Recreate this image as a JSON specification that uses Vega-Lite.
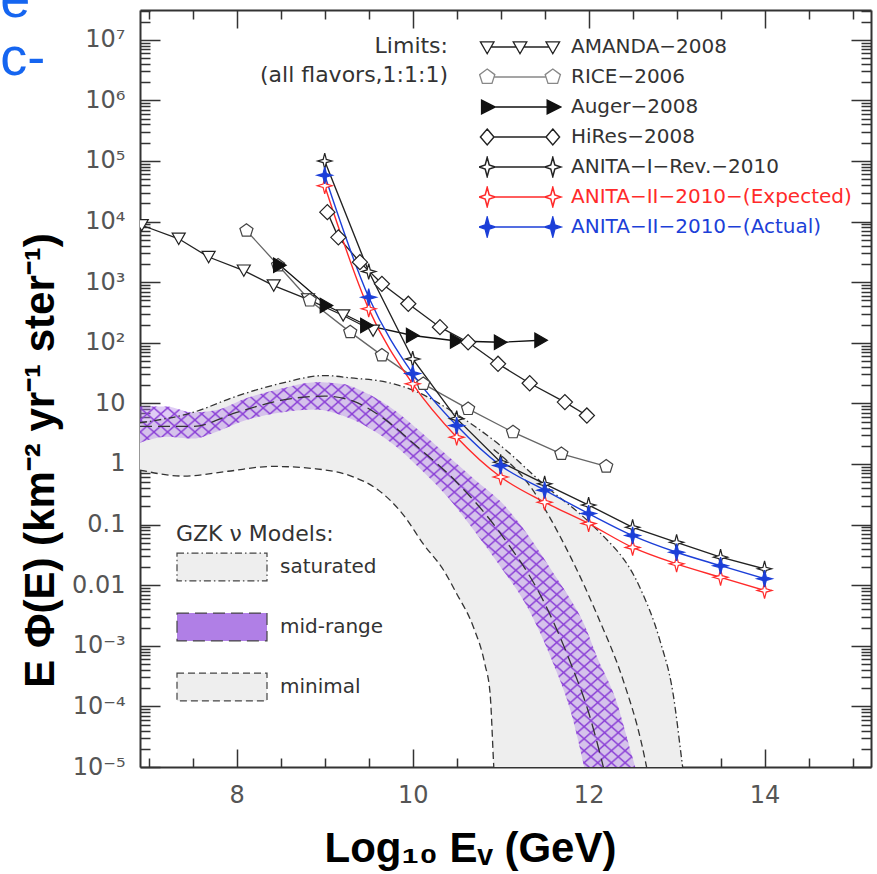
{
  "$schema": "https://vega.github.io/schema/vega-lite/v6.json",
  "width": 731,
  "height": 757,
  "autosize": {"type": "none"},
  "padding": {"left": 140, "top": 10, "right": 6, "bottom": 107},
  "background": "white",
  "datasets": {
    "limits": [
      {"s": "AMANDA−2008", "E": 6.92, "F": 8700},
      {"s": "AMANDA−2008", "E": 7.34, "F": 5200},
      {"s": "AMANDA−2008", "E": 7.68, "F": 2600},
      {"s": "AMANDA−2008", "E": 8.08, "F": 1550},
      {"s": "AMANDA−2008", "E": 8.42, "F": 880},
      {"s": "AMANDA−2008", "E": 8.81, "F": 520},
      {"s": "AMANDA−2008", "E": 9.21, "F": 282},
      {"s": "AMANDA−2008", "E": 9.55, "F": 158},
      {"s": "RICE−2006", "E": 8.11, "F": 7100},
      {"s": "RICE−2006", "E": 8.47, "F": 1900},
      {"s": "RICE−2006", "E": 8.83, "F": 500},
      {"s": "RICE−2006", "E": 9.29, "F": 150},
      {"s": "RICE−2006", "E": 9.65, "F": 62},
      {"s": "RICE−2006", "E": 10.12, "F": 21},
      {"s": "RICE−2006", "E": 10.63, "F": 8.1},
      {"s": "RICE−2006", "E": 11.14, "F": 3.35},
      {"s": "RICE−2006", "E": 11.69, "F": 1.47},
      {"s": "RICE−2006", "E": 12.2, "F": 0.91},
      {"s": "Auger−2008", "E": 8.49, "F": 1900},
      {"s": "Auger−2008", "E": 9.02, "F": 412},
      {"s": "Auger−2008", "E": 9.48, "F": 193},
      {"s": "Auger−2008", "E": 10.0, "F": 132},
      {"s": "Auger−2008", "E": 10.5, "F": 107},
      {"s": "Auger−2008", "E": 11.0, "F": 102},
      {"s": "Auger−2008", "E": 11.46, "F": 110},
      {"s": "HiRes−2008", "E": 9.03, "F": 14300},
      {"s": "HiRes−2008", "E": 9.155, "F": 5500},
      {"s": "HiRes−2008", "E": 9.4, "F": 2140},
      {"s": "HiRes−2008", "E": 9.65, "F": 940},
      {"s": "HiRes−2008", "E": 9.95, "F": 440},
      {"s": "HiRes−2008", "E": 10.31, "F": 181},
      {"s": "HiRes−2008", "E": 10.63, "F": 102},
      {"s": "HiRes−2008", "E": 10.97, "F": 45},
      {"s": "HiRes−2008", "E": 11.33, "F": 21.5},
      {"s": "HiRes−2008", "E": 11.73, "F": 10.5},
      {"s": "HiRes−2008", "E": 11.98, "F": 6.3},
      {"s": "ANITA−I−Rev.−2010", "E": 9, "F": 100000},
      {"s": "ANITA−I−Rev.−2010", "E": 9.5, "F": 1500},
      {"s": "ANITA−I−Rev.−2010", "E": 10, "F": 54},
      {"s": "ANITA−I−Rev.−2010", "E": 10.5, "F": 5.6},
      {"s": "ANITA−I−Rev.−2010", "E": 11, "F": 1.07},
      {"s": "ANITA−I−Rev.−2010", "E": 11.5, "F": 0.47},
      {"s": "ANITA−I−Rev.−2010", "E": 12, "F": 0.21},
      {"s": "ANITA−I−Rev.−2010", "E": 12.5, "F": 0.09},
      {"s": "ANITA−I−Rev.−2010", "E": 13, "F": 0.051},
      {"s": "ANITA−I−Rev.−2010", "E": 13.5, "F": 0.029},
      {"s": "ANITA−I−Rev.−2010", "E": 14, "F": 0.0186},
      {"s": "ANITA−II−2010−(Expected)", "E": 9, "F": 39000},
      {"s": "ANITA−II−2010−(Expected)", "E": 9.5, "F": 363},
      {"s": "ANITA−II−2010−(Expected)", "E": 10, "F": 21},
      {"s": "ANITA−II−2010−(Expected)", "E": 10.5, "F": 2.77},
      {"s": "ANITA−II−2010−(Expected)", "E": 11, "F": 0.61},
      {"s": "ANITA−II−2010−(Expected)", "E": 11.5, "F": 0.234},
      {"s": "ANITA−II−2010−(Expected)", "E": 12, "F": 0.104},
      {"s": "ANITA−II−2010−(Expected)", "E": 12.5, "F": 0.042},
      {"s": "ANITA−II−2010−(Expected)", "E": 13, "F": 0.0225},
      {"s": "ANITA−II−2010−(Expected)", "E": 13.5, "F": 0.0135},
      {"s": "ANITA−II−2010−(Expected)", "E": 14, "F": 0.0082},
      {"s": "ANITA−II−2010−(Actual)", "E": 9, "F": 58000},
      {"s": "ANITA−II−2010−(Actual)", "E": 9.5, "F": 565},
      {"s": "ANITA−II−2010−(Actual)", "E": 10, "F": 31},
      {"s": "ANITA−II−2010−(Actual)", "E": 10.5, "F": 4.3},
      {"s": "ANITA−II−2010−(Actual)", "E": 11, "F": 0.94},
      {"s": "ANITA−II−2010−(Actual)", "E": 11.5, "F": 0.37},
      {"s": "ANITA−II−2010−(Actual)", "E": 12, "F": 0.152},
      {"s": "ANITA−II−2010−(Actual)", "E": 12.5, "F": 0.066},
      {"s": "ANITA−II−2010−(Actual)", "E": 13, "F": 0.035},
      {"s": "ANITA−II−2010−(Actual)", "E": 13.5, "F": 0.021},
      {"s": "ANITA−II−2010−(Actual)", "E": 14, "F": 0.0128}
    ],
    "bands": [
      {"m": "saturated", "E": 6.9, "lo": 4.17, "hi": 4.79},
      {"m": "saturated", "E": 7.5, "lo": 4.17, "hi": 7.08},
      {"m": "saturated", "E": 8.0, "lo": 7.08, "hi": 13.2},
      {"m": "saturated", "E": 8.5, "lo": 11.2, "hi": 21.4},
      {"m": "saturated", "E": 9.0, "lo": 13.2, "hi": 28.8},
      {"m": "saturated", "E": 9.3, "lo": 11.2, "hi": 26.3},
      {"m": "saturated", "E": 9.7, "lo": 5.25, "hi": 22.4},
      {"m": "saturated", "E": 10.0, "lo": 2.24, "hi": 16.6},
      {"m": "saturated", "E": 10.5, "lo": 0.501, "hi": 6.61},
      {"m": "saturated", "E": 11.0, "lo": 0.0708, "hi": 2.0},
      {"m": "saturated", "E": 11.5, "lo": 0.00501, "hi": 0.447},
      {"m": "saturated", "E": 12.0, "lo": 7.94e-5, "hi": 0.112},
      {"m": "saturated", "E": 12.12, "lo": 1.58e-5, "hi": 0.0759},
      {"m": "saturated", "E": 12.58, "lo": 1e-6, "hi": 9.33e-3},
      {"m": "saturated", "E": 12.81, "lo": 1e-6, "hi": 1.23e-3},
      {"m": "saturated", "E": 12.96, "lo": 1e-6, "hi": 1.62e-4},
      {"m": "saturated", "E": 13.06, "lo": 1e-6, "hi": 1.26e-5},
      {"m": "saturated", "E": 13.12, "lo": 1e-6, "hi": 2.51e-6},
      {"m": "minimal", "E": 6.9, "lo": 0.794, "hi": 4.17},
      {"m": "minimal", "E": 7.4, "lo": 0.631, "hi": 4.17},
      {"m": "minimal", "E": 7.9, "lo": 0.759, "hi": 6.61},
      {"m": "minimal", "E": 8.4, "lo": 0.912, "hi": 10},
      {"m": "minimal", "E": 8.9, "lo": 0.832, "hi": 12.6},
      {"m": "minimal", "E": 9.3, "lo": 0.631, "hi": 11.2},
      {"m": "minimal", "E": 9.6, "lo": 0.38, "hi": 7.94},
      {"m": "minimal", "E": 9.9, "lo": 0.141, "hi": 5.62},
      {"m": "minimal", "E": 10.12, "lo": 0.0479, "hi": 4.79},
      {"m": "minimal", "E": 10.35, "lo": 0.0178, "hi": 3.98},
      {"m": "minimal", "E": 10.5, "lo": 7.24e-3, "hi": 3.55},
      {"m": "minimal", "E": 10.69, "lo": 2.04e-3, "hi": 2.63},
      {"m": "minimal", "E": 10.82, "lo": 5.01e-4, "hi": 2.09},
      {"m": "minimal", "E": 10.88, "lo": 1.62e-4, "hi": 1.86},
      {"m": "minimal", "E": 10.92, "lo": 1.12e-5, "hi": 1.74},
      {"m": "minimal", "E": 10.94, "lo": 3.16e-6, "hi": 1.66},
      {"m": "minimal", "E": 11.3, "lo": 1e-6, "hi": 0.501},
      {"m": "minimal", "E": 11.8, "lo": 1e-6, "hi": 0.0282},
      {"m": "minimal", "E": 12.1, "lo": 1e-6, "hi": 3.16e-3},
      {"m": "minimal", "E": 12.4, "lo": 1e-6, "hi": 2.51e-4},
      {"m": "minimal", "E": 12.6, "lo": 1e-6, "hi": 2.51e-5},
      {"m": "minimal", "E": 12.7, "lo": 1e-6, "hi": 5.01e-6},
      {"m": "mid-range", "E": 6.9, "lo": 2.24, "hi": 8.91},
      {"m": "mid-range", "E": 7.2, "lo": 2.82, "hi": 8.91},
      {"m": "mid-range", "E": 7.5, "lo": 2.63, "hi": 7.08},
      {"m": "mid-range", "E": 7.8, "lo": 3.55, "hi": 7.94},
      {"m": "mid-range", "E": 8.1, "lo": 5.25, "hi": 12.0},
      {"m": "mid-range", "E": 8.5, "lo": 7.08, "hi": 17.4},
      {"m": "mid-range", "E": 8.9, "lo": 7.94, "hi": 22.4},
      {"m": "mid-range", "E": 9.2, "lo": 6.31, "hi": 20.9},
      {"m": "mid-range", "E": 9.5, "lo": 3.98, "hi": 14.1},
      {"m": "mid-range", "E": 9.8, "lo": 2.0, "hi": 7.59},
      {"m": "mid-range", "E": 10.1, "lo": 0.794, "hi": 3.31},
      {"m": "mid-range", "E": 10.4, "lo": 0.282, "hi": 1.35},
      {"m": "mid-range", "E": 10.7, "lo": 0.0794, "hi": 0.562},
      {"m": "mid-range", "E": 11.0, "lo": 0.02, "hi": 0.24},
      {"m": "mid-range", "E": 11.3, "lo": 4.47e-3, "hi": 0.0708},
      {"m": "mid-range", "E": 11.6, "lo": 5.01e-4, "hi": 0.0158},
      {"m": "mid-range", "E": 11.8, "lo": 7.94e-5, "hi": 5.62e-3},
      {"m": "mid-range", "E": 11.95, "lo": 1e-5, "hi": 2.24e-3},
      {"m": "mid-range", "E": 12.1, "lo": 1e-6, "hi": 6.31e-4},
      {"m": "mid-range", "E": 12.3, "lo": 1e-6, "hi": 1.41e-4},
      {"m": "mid-range", "E": 12.5, "lo": 1e-6, "hi": 1.41e-5},
      {"m": "mid-range", "E": 12.65, "lo": 1e-6, "hi": 2.51e-6}
    ],
    "curves": [
      {"c": "sat_up", "m": "saturated", "E": 6.9, "F": 4.79},
      {"c": "sat_up", "m": "saturated", "E": 7.5, "F": 7.08},
      {"c": "sat_up", "m": "saturated", "E": 8.0, "F": 13.2},
      {"c": "sat_up", "m": "saturated", "E": 8.5, "F": 21.4},
      {"c": "sat_up", "m": "saturated", "E": 9.0, "F": 28.8},
      {"c": "sat_up", "m": "saturated", "E": 9.3, "F": 26.3},
      {"c": "sat_up", "m": "saturated", "E": 9.7, "F": 22.4},
      {"c": "sat_up", "m": "saturated", "E": 10.0, "F": 16.6},
      {"c": "sat_up", "m": "saturated", "E": 10.5, "F": 6.61},
      {"c": "sat_up", "m": "saturated", "E": 11.0, "F": 2.0},
      {"c": "sat_up", "m": "saturated", "E": 11.5, "F": 0.447},
      {"c": "sat_up", "m": "saturated", "E": 12.0, "F": 0.112},
      {"c": "sat_up", "m": "saturated", "E": 12.12, "F": 0.0759},
      {"c": "sat_up", "m": "saturated", "E": 12.58, "F": 9.33e-3},
      {"c": "sat_up", "m": "saturated", "E": 12.81, "F": 1.23e-3},
      {"c": "sat_up", "m": "saturated", "E": 12.96, "F": 1.62e-4},
      {"c": "sat_up", "m": "saturated", "E": 13.06, "F": 1.26e-5},
      {"c": "sat_up", "m": "saturated", "E": 13.12, "F": 2.51e-6},
      {"c": "mid_c", "m": "mid-range", "E": 6.9, "F": 4.17},
      {"c": "mid_c", "m": "mid-range", "E": 7.5, "F": 4.17},
      {"c": "mid_c", "m": "mid-range", "E": 8.0, "F": 7.08},
      {"c": "mid_c", "m": "mid-range", "E": 8.5, "F": 11.2},
      {"c": "mid_c", "m": "mid-range", "E": 9.0, "F": 13.2},
      {"c": "mid_c", "m": "mid-range", "E": 9.3, "F": 11.2},
      {"c": "mid_c", "m": "mid-range", "E": 9.7, "F": 5.25},
      {"c": "mid_c", "m": "mid-range", "E": 10.0, "F": 2.24},
      {"c": "mid_c", "m": "mid-range", "E": 10.5, "F": 0.501},
      {"c": "mid_c", "m": "mid-range", "E": 11.0, "F": 0.0708},
      {"c": "mid_c", "m": "mid-range", "E": 11.5, "F": 5.01e-3},
      {"c": "mid_c", "m": "mid-range", "E": 11.8, "F": 5.01e-4},
      {"c": "mid_c", "m": "mid-range", "E": 12.0, "F": 7.94e-5},
      {"c": "mid_c", "m": "mid-range", "E": 12.15, "F": 1.26e-5},
      {"c": "mid_c", "m": "mid-range", "E": 12.25, "F": 3.16e-6},
      {"c": "min_lo", "m": "minimal", "E": 6.9, "F": 0.794},
      {"c": "min_lo", "m": "minimal", "E": 7.4, "F": 0.631},
      {"c": "min_lo", "m": "minimal", "E": 7.9, "F": 0.759},
      {"c": "min_lo", "m": "minimal", "E": 8.4, "F": 0.912},
      {"c": "min_lo", "m": "minimal", "E": 8.9, "F": 0.832},
      {"c": "min_lo", "m": "minimal", "E": 9.3, "F": 0.631},
      {"c": "min_lo", "m": "minimal", "E": 9.6, "F": 0.38},
      {"c": "min_lo", "m": "minimal", "E": 9.9, "F": 0.141},
      {"c": "min_lo", "m": "minimal", "E": 10.12, "F": 0.0479},
      {"c": "min_lo", "m": "minimal", "E": 10.35, "F": 0.0178},
      {"c": "min_lo", "m": "minimal", "E": 10.5, "F": 7.24e-3},
      {"c": "min_lo", "m": "minimal", "E": 10.69, "F": 2.04e-3},
      {"c": "min_lo", "m": "minimal", "E": 10.82, "F": 5.01e-4},
      {"c": "min_lo", "m": "minimal", "E": 10.88, "F": 1.62e-4},
      {"c": "min_lo", "m": "minimal", "E": 10.92, "F": 1.12e-5},
      {"c": "min_lo", "m": "minimal", "E": 10.94, "F": 3.16e-6},
      {"c": "min_up", "m": "minimal", "E": 10.92, "F": 1.74},
      {"c": "min_up", "m": "minimal", "E": 11.3, "F": 0.501},
      {"c": "min_up", "m": "minimal", "E": 11.8, "F": 0.0282},
      {"c": "min_up", "m": "minimal", "E": 12.1, "F": 3.16e-3},
      {"c": "min_up", "m": "minimal", "E": 12.4, "F": 2.51e-4},
      {"c": "min_up", "m": "minimal", "E": 12.6, "F": 2.51e-5},
      {"c": "min_up", "m": "minimal", "E": 12.7, "F": 5.01e-6}
    ]
  },
  "layer": [
    {
      "data": {"name": "bands"},
      "transform": [{"filter": "datum.m !== 'mid-range'"}],
      "mark": {"type": "area", "clip": true, "interpolate": "monotone"},
      "encoding": {
        "x": {"field": "E", "type": "quantitative", "scale": {"domain": [6.9, 15.21], "nice": false, "zero": false}, "axis": null},
        "y": {"field": "hi", "type": "quantitative", "scale": {"type": "log", "domain": [1e-5, 3.1e7], "nice": false}, "axis": null},
        "y2": {"field": "lo"},
        "color": {
          "field": "m", "type": "nominal",
          "scale": {"domain": ["saturated", "mid-range", "minimal"], "range": ["#eeeeee", "#b07fe6", "#eeeeee"]},
          "legend": {"title": "GZK ν Models:", "orient": "none", "legendX": 36, "legendY": 514, "direction": "vertical", "titleFontSize": 22, "titleColor": "#333", "titleFontWeight": "normal", "titlePadding": 6, "symbolType": "M-1,-0.31H1V0.31H-1Z", "symbolSize": 8100, "symbolStrokeColor": "#444", "symbolStrokeWidth": 1.2, "symbolOpacity": 1, "clipHeight": 30, "rowPadding": 30, "labelFontSize": 20, "labelOffset": 12, "labelColor": "#333", "padding": 0}
        }
      }
    },
    {
      "data": {"name": "bands"},
      "transform": [{"filter": "datum.m === 'mid-range'"}],
      "mark": {"type": "area", "clip": true, "interpolate": "monotone", "opacity": 0.4},
      "encoding": {
        "x": {"field": "E", "type": "quantitative", "scale": {"domain": [6.9, 15.21], "nice": false, "zero": false}, "axis": null},
        "y": {"field": "hi", "type": "quantitative", "scale": {"type": "log", "domain": [1e-5, 3.1e7], "nice": false}, "axis": null},
        "y2": {"field": "lo"},
        "color": {
          "field": "m", "type": "nominal",
          "scale": {"domain": ["saturated", "mid-range", "minimal"], "range": ["#eeeeee", "#b07fe6", "#eeeeee"]},
          "legend": {"title": "GZK ν Models:", "orient": "none", "legendX": 36, "legendY": 514, "direction": "vertical", "titleFontSize": 22, "titleColor": "#333", "titleFontWeight": "normal", "titlePadding": 6, "symbolType": "M-1,-0.31H1V0.31H-1Z", "symbolSize": 8100, "symbolStrokeColor": "#444", "symbolStrokeWidth": 1.2, "symbolOpacity": 1, "clipHeight": 30, "rowPadding": 30, "labelFontSize": 20, "labelOffset": 12, "labelColor": "#333", "padding": 0}
        }
      }
    },
    {
      "data": {"name": "bands"},
      "transform": [{"filter": "datum.m === 'mid-range'"}],
      "mark": {
        "type": "area", "clip": true, "interpolate": "monotone",
        "fill": {"gradient": "linear", "x1": 0, "y1": 0, "x2": 1, "y2": 1, "stops": [
          {"offset": 0, "color": "#8a3fd600"}, {"offset": 0.0022, "color": "#8a3fd6"}, {"offset": 0.0044, "color": "#8a3fd600"},
          {"offset": 0.0135, "color": "#8a3fd600"}, {"offset": 0.0157, "color": "#8a3fd6"}, {"offset": 0.0179, "color": "#8a3fd600"},
          {"offset": 0.027, "color": "#8a3fd600"}, {"offset": 0.0292, "color": "#8a3fd6"}, {"offset": 0.0314, "color": "#8a3fd600"},
          {"offset": 0.0405, "color": "#8a3fd600"}, {"offset": 0.0427, "color": "#8a3fd6"}, {"offset": 0.0449, "color": "#8a3fd600"},
          {"offset": 0.054, "color": "#8a3fd600"}, {"offset": 0.0562, "color": "#8a3fd6"}, {"offset": 0.0584, "color": "#8a3fd600"},
          {"offset": 0.0675, "color": "#8a3fd600"}, {"offset": 0.0697, "color": "#8a3fd6"}, {"offset": 0.0719, "color": "#8a3fd600"},
          {"offset": 0.081, "color": "#8a3fd600"}, {"offset": 0.0832, "color": "#8a3fd6"}, {"offset": 0.0854, "color": "#8a3fd600"},
          {"offset": 0.0945, "color": "#8a3fd600"}, {"offset": 0.0967, "color": "#8a3fd6"}, {"offset": 0.0989, "color": "#8a3fd600"},
          {"offset": 0.108, "color": "#8a3fd600"}, {"offset": 0.1102, "color": "#8a3fd6"}, {"offset": 0.1124, "color": "#8a3fd600"},
          {"offset": 0.1215, "color": "#8a3fd600"}, {"offset": 0.1237, "color": "#8a3fd6"}, {"offset": 0.1259, "color": "#8a3fd600"},
          {"offset": 0.135, "color": "#8a3fd600"}, {"offset": 0.1372, "color": "#8a3fd6"}, {"offset": 0.1394, "color": "#8a3fd600"},
          {"offset": 0.1485, "color": "#8a3fd600"}, {"offset": 0.1507, "color": "#8a3fd6"}, {"offset": 0.1529, "color": "#8a3fd600"},
          {"offset": 0.162, "color": "#8a3fd600"}, {"offset": 0.1642, "color": "#8a3fd6"}, {"offset": 0.1664, "color": "#8a3fd600"},
          {"offset": 0.1755, "color": "#8a3fd600"}, {"offset": 0.1777, "color": "#8a3fd6"}, {"offset": 0.1799, "color": "#8a3fd600"},
          {"offset": 0.189, "color": "#8a3fd600"}, {"offset": 0.1912, "color": "#8a3fd6"}, {"offset": 0.1934, "color": "#8a3fd600"},
          {"offset": 0.2025, "color": "#8a3fd600"}, {"offset": 0.2047, "color": "#8a3fd6"}, {"offset": 0.2069, "color": "#8a3fd600"},
          {"offset": 0.216, "color": "#8a3fd600"}, {"offset": 0.2182, "color": "#8a3fd6"}, {"offset": 0.2204, "color": "#8a3fd600"},
          {"offset": 0.2295, "color": "#8a3fd600"}, {"offset": 0.2317, "color": "#8a3fd6"}, {"offset": 0.2339, "color": "#8a3fd600"},
          {"offset": 0.243, "color": "#8a3fd600"}, {"offset": 0.2452, "color": "#8a3fd6"}, {"offset": 0.2474, "color": "#8a3fd600"},
          {"offset": 0.2565, "color": "#8a3fd600"}, {"offset": 0.2587, "color": "#8a3fd6"}, {"offset": 0.2609, "color": "#8a3fd600"},
          {"offset": 0.27, "color": "#8a3fd600"}, {"offset": 0.2722, "color": "#8a3fd6"}, {"offset": 0.2744, "color": "#8a3fd600"},
          {"offset": 0.2835, "color": "#8a3fd600"}, {"offset": 0.2857, "color": "#8a3fd6"}, {"offset": 0.2879, "color": "#8a3fd600"},
          {"offset": 0.297, "color": "#8a3fd600"}, {"offset": 0.2992, "color": "#8a3fd6"}, {"offset": 0.3014, "color": "#8a3fd600"},
          {"offset": 0.3105, "color": "#8a3fd600"}, {"offset": 0.3127, "color": "#8a3fd6"}, {"offset": 0.3149, "color": "#8a3fd600"},
          {"offset": 0.324, "color": "#8a3fd600"}, {"offset": 0.3262, "color": "#8a3fd6"}, {"offset": 0.3284, "color": "#8a3fd600"},
          {"offset": 0.3375, "color": "#8a3fd600"}, {"offset": 0.3397, "color": "#8a3fd6"}, {"offset": 0.3419, "color": "#8a3fd600"},
          {"offset": 0.351, "color": "#8a3fd600"}, {"offset": 0.3532, "color": "#8a3fd6"}, {"offset": 0.3554, "color": "#8a3fd600"},
          {"offset": 0.3645, "color": "#8a3fd600"}, {"offset": 0.3667, "color": "#8a3fd6"}, {"offset": 0.3689, "color": "#8a3fd600"},
          {"offset": 0.378, "color": "#8a3fd600"}, {"offset": 0.3802, "color": "#8a3fd6"}, {"offset": 0.3824, "color": "#8a3fd600"},
          {"offset": 0.3915, "color": "#8a3fd600"}, {"offset": 0.3937, "color": "#8a3fd6"}, {"offset": 0.3959, "color": "#8a3fd600"},
          {"offset": 0.405, "color": "#8a3fd600"}, {"offset": 0.4072, "color": "#8a3fd6"}, {"offset": 0.4094, "color": "#8a3fd600"},
          {"offset": 0.4185, "color": "#8a3fd600"}, {"offset": 0.4207, "color": "#8a3fd6"}, {"offset": 0.4229, "color": "#8a3fd600"},
          {"offset": 0.432, "color": "#8a3fd600"}, {"offset": 0.4342, "color": "#8a3fd6"}, {"offset": 0.4364, "color": "#8a3fd600"},
          {"offset": 0.4455, "color": "#8a3fd600"}, {"offset": 0.4477, "color": "#8a3fd6"}, {"offset": 0.4499, "color": "#8a3fd600"},
          {"offset": 0.459, "color": "#8a3fd600"}, {"offset": 0.4612, "color": "#8a3fd6"}, {"offset": 0.4634, "color": "#8a3fd600"},
          {"offset": 0.4725, "color": "#8a3fd600"}, {"offset": 0.4747, "color": "#8a3fd6"}, {"offset": 0.4769, "color": "#8a3fd600"},
          {"offset": 0.486, "color": "#8a3fd600"}, {"offset": 0.4882, "color": "#8a3fd6"}, {"offset": 0.4904, "color": "#8a3fd600"},
          {"offset": 0.4995, "color": "#8a3fd600"}, {"offset": 0.5017, "color": "#8a3fd6"}, {"offset": 0.5039, "color": "#8a3fd600"},
          {"offset": 0.513, "color": "#8a3fd600"}, {"offset": 0.5152, "color": "#8a3fd6"}, {"offset": 0.5174, "color": "#8a3fd600"},
          {"offset": 0.5265, "color": "#8a3fd600"}, {"offset": 0.5287, "color": "#8a3fd6"}, {"offset": 0.5309, "color": "#8a3fd600"},
          {"offset": 0.54, "color": "#8a3fd600"}, {"offset": 0.5422, "color": "#8a3fd6"}, {"offset": 0.5444, "color": "#8a3fd600"},
          {"offset": 0.5535, "color": "#8a3fd600"}, {"offset": 0.5557, "color": "#8a3fd6"}, {"offset": 0.5579, "color": "#8a3fd600"},
          {"offset": 0.567, "color": "#8a3fd600"}, {"offset": 0.5692, "color": "#8a3fd6"}, {"offset": 0.5714, "color": "#8a3fd600"},
          {"offset": 0.5805, "color": "#8a3fd600"}, {"offset": 0.5827, "color": "#8a3fd6"}, {"offset": 0.5849, "color": "#8a3fd600"},
          {"offset": 0.594, "color": "#8a3fd600"}, {"offset": 0.5962, "color": "#8a3fd6"}, {"offset": 0.5984, "color": "#8a3fd600"},
          {"offset": 0.6075, "color": "#8a3fd600"}, {"offset": 0.6097, "color": "#8a3fd6"}, {"offset": 0.6119, "color": "#8a3fd600"},
          {"offset": 0.621, "color": "#8a3fd600"}, {"offset": 0.6232, "color": "#8a3fd6"}, {"offset": 0.6254, "color": "#8a3fd600"},
          {"offset": 0.6345, "color": "#8a3fd600"}, {"offset": 0.6367, "color": "#8a3fd6"}, {"offset": 0.6389, "color": "#8a3fd600"},
          {"offset": 0.648, "color": "#8a3fd600"}, {"offset": 0.6502, "color": "#8a3fd6"}, {"offset": 0.6524, "color": "#8a3fd600"},
          {"offset": 0.6615, "color": "#8a3fd600"}, {"offset": 0.6637, "color": "#8a3fd6"}, {"offset": 0.6659, "color": "#8a3fd600"},
          {"offset": 0.675, "color": "#8a3fd600"}, {"offset": 0.6772, "color": "#8a3fd6"}, {"offset": 0.6794, "color": "#8a3fd600"},
          {"offset": 0.6885, "color": "#8a3fd600"}, {"offset": 0.6907, "color": "#8a3fd6"}, {"offset": 0.6929, "color": "#8a3fd600"},
          {"offset": 0.702, "color": "#8a3fd600"}, {"offset": 0.7042, "color": "#8a3fd6"}, {"offset": 0.7064, "color": "#8a3fd600"},
          {"offset": 0.7155, "color": "#8a3fd600"}, {"offset": 0.7177, "color": "#8a3fd6"}, {"offset": 0.7199, "color": "#8a3fd600"},
          {"offset": 0.729, "color": "#8a3fd600"}, {"offset": 0.7312, "color": "#8a3fd6"}, {"offset": 0.7334, "color": "#8a3fd600"},
          {"offset": 0.7425, "color": "#8a3fd600"}, {"offset": 0.7447, "color": "#8a3fd6"}, {"offset": 0.7469, "color": "#8a3fd600"},
          {"offset": 0.756, "color": "#8a3fd600"}, {"offset": 0.7582, "color": "#8a3fd6"}, {"offset": 0.7604, "color": "#8a3fd600"},
          {"offset": 0.7695, "color": "#8a3fd600"}, {"offset": 0.7717, "color": "#8a3fd6"}, {"offset": 0.7739, "color": "#8a3fd600"},
          {"offset": 0.783, "color": "#8a3fd600"}, {"offset": 0.7852, "color": "#8a3fd6"}, {"offset": 0.7874, "color": "#8a3fd600"},
          {"offset": 0.7965, "color": "#8a3fd600"}, {"offset": 0.7987, "color": "#8a3fd6"}, {"offset": 0.8009, "color": "#8a3fd600"},
          {"offset": 0.81, "color": "#8a3fd600"}, {"offset": 0.8122, "color": "#8a3fd6"}, {"offset": 0.8144, "color": "#8a3fd600"},
          {"offset": 0.8235, "color": "#8a3fd600"}, {"offset": 0.8257, "color": "#8a3fd6"}, {"offset": 0.8279, "color": "#8a3fd600"},
          {"offset": 0.837, "color": "#8a3fd600"}, {"offset": 0.8392, "color": "#8a3fd6"}, {"offset": 0.8414, "color": "#8a3fd600"},
          {"offset": 0.8505, "color": "#8a3fd600"}, {"offset": 0.8527, "color": "#8a3fd6"}, {"offset": 0.8549, "color": "#8a3fd600"},
          {"offset": 0.864, "color": "#8a3fd600"}, {"offset": 0.8662, "color": "#8a3fd6"}, {"offset": 0.8684, "color": "#8a3fd600"},
          {"offset": 0.8775, "color": "#8a3fd600"}, {"offset": 0.8797, "color": "#8a3fd6"}, {"offset": 0.8819, "color": "#8a3fd600"},
          {"offset": 0.891, "color": "#8a3fd600"}, {"offset": 0.8932, "color": "#8a3fd6"}, {"offset": 0.8954, "color": "#8a3fd600"},
          {"offset": 0.9045, "color": "#8a3fd600"}, {"offset": 0.9067, "color": "#8a3fd6"}, {"offset": 0.9089, "color": "#8a3fd600"},
          {"offset": 0.918, "color": "#8a3fd600"}, {"offset": 0.9202, "color": "#8a3fd6"}, {"offset": 0.9224, "color": "#8a3fd600"},
          {"offset": 0.9315, "color": "#8a3fd600"}, {"offset": 0.9337, "color": "#8a3fd6"}, {"offset": 0.9359, "color": "#8a3fd600"},
          {"offset": 0.945, "color": "#8a3fd600"}, {"offset": 0.9472, "color": "#8a3fd6"}, {"offset": 0.9494, "color": "#8a3fd600"},
          {"offset": 0.9585, "color": "#8a3fd600"}, {"offset": 0.9607, "color": "#8a3fd6"}, {"offset": 0.9629, "color": "#8a3fd600"},
          {"offset": 0.972, "color": "#8a3fd600"}, {"offset": 0.9742, "color": "#8a3fd6"}, {"offset": 0.9764, "color": "#8a3fd600"},
          {"offset": 0.9855, "color": "#8a3fd600"}, {"offset": 0.9877, "color": "#8a3fd6"}, {"offset": 0.9899, "color": "#8a3fd600"},
          {"offset": 1, "color": "#8a3fd600"}
        ]}
      },
      "encoding": {
        "x": {"field": "E", "type": "quantitative", "scale": {"domain": [6.9, 15.21], "nice": false, "zero": false}, "axis": null},
        "y": {"field": "hi", "type": "quantitative", "scale": {"type": "log", "domain": [1e-5, 3.1e7], "nice": false}, "axis": null},
        "y2": {"field": "lo"}
      }
    },
    {
      "data": {"name": "bands"},
      "transform": [{"filter": "datum.m === 'mid-range'"}],
      "mark": {
        "type": "area", "clip": true, "interpolate": "monotone",
        "fill": {"gradient": "linear", "x1": 1, "y1": 0, "x2": 0, "y2": 1, "stops": [
          {"offset": 0, "color": "#8a3fd600"}, {"offset": 0.0022, "color": "#8a3fd6"}, {"offset": 0.0044, "color": "#8a3fd600"},
          {"offset": 0.0135, "color": "#8a3fd600"}, {"offset": 0.0157, "color": "#8a3fd6"}, {"offset": 0.0179, "color": "#8a3fd600"},
          {"offset": 0.027, "color": "#8a3fd600"}, {"offset": 0.0292, "color": "#8a3fd6"}, {"offset": 0.0314, "color": "#8a3fd600"},
          {"offset": 0.0405, "color": "#8a3fd600"}, {"offset": 0.0427, "color": "#8a3fd6"}, {"offset": 0.0449, "color": "#8a3fd600"},
          {"offset": 0.054, "color": "#8a3fd600"}, {"offset": 0.0562, "color": "#8a3fd6"}, {"offset": 0.0584, "color": "#8a3fd600"},
          {"offset": 0.0675, "color": "#8a3fd600"}, {"offset": 0.0697, "color": "#8a3fd6"}, {"offset": 0.0719, "color": "#8a3fd600"},
          {"offset": 0.081, "color": "#8a3fd600"}, {"offset": 0.0832, "color": "#8a3fd6"}, {"offset": 0.0854, "color": "#8a3fd600"},
          {"offset": 0.0945, "color": "#8a3fd600"}, {"offset": 0.0967, "color": "#8a3fd6"}, {"offset": 0.0989, "color": "#8a3fd600"},
          {"offset": 0.108, "color": "#8a3fd600"}, {"offset": 0.1102, "color": "#8a3fd6"}, {"offset": 0.1124, "color": "#8a3fd600"},
          {"offset": 0.1215, "color": "#8a3fd600"}, {"offset": 0.1237, "color": "#8a3fd6"}, {"offset": 0.1259, "color": "#8a3fd600"},
          {"offset": 0.135, "color": "#8a3fd600"}, {"offset": 0.1372, "color": "#8a3fd6"}, {"offset": 0.1394, "color": "#8a3fd600"},
          {"offset": 0.1485, "color": "#8a3fd600"}, {"offset": 0.1507, "color": "#8a3fd6"}, {"offset": 0.1529, "color": "#8a3fd600"},
          {"offset": 0.162, "color": "#8a3fd600"}, {"offset": 0.1642, "color": "#8a3fd6"}, {"offset": 0.1664, "color": "#8a3fd600"},
          {"offset": 0.1755, "color": "#8a3fd600"}, {"offset": 0.1777, "color": "#8a3fd6"}, {"offset": 0.1799, "color": "#8a3fd600"},
          {"offset": 0.189, "color": "#8a3fd600"}, {"offset": 0.1912, "color": "#8a3fd6"}, {"offset": 0.1934, "color": "#8a3fd600"},
          {"offset": 0.2025, "color": "#8a3fd600"}, {"offset": 0.2047, "color": "#8a3fd6"}, {"offset": 0.2069, "color": "#8a3fd600"},
          {"offset": 0.216, "color": "#8a3fd600"}, {"offset": 0.2182, "color": "#8a3fd6"}, {"offset": 0.2204, "color": "#8a3fd600"},
          {"offset": 0.2295, "color": "#8a3fd600"}, {"offset": 0.2317, "color": "#8a3fd6"}, {"offset": 0.2339, "color": "#8a3fd600"},
          {"offset": 0.243, "color": "#8a3fd600"}, {"offset": 0.2452, "color": "#8a3fd6"}, {"offset": 0.2474, "color": "#8a3fd600"},
          {"offset": 0.2565, "color": "#8a3fd600"}, {"offset": 0.2587, "color": "#8a3fd6"}, {"offset": 0.2609, "color": "#8a3fd600"},
          {"offset": 0.27, "color": "#8a3fd600"}, {"offset": 0.2722, "color": "#8a3fd6"}, {"offset": 0.2744, "color": "#8a3fd600"},
          {"offset": 0.2835, "color": "#8a3fd600"}, {"offset": 0.2857, "color": "#8a3fd6"}, {"offset": 0.2879, "color": "#8a3fd600"},
          {"offset": 0.297, "color": "#8a3fd600"}, {"offset": 0.2992, "color": "#8a3fd6"}, {"offset": 0.3014, "color": "#8a3fd600"},
          {"offset": 0.3105, "color": "#8a3fd600"}, {"offset": 0.3127, "color": "#8a3fd6"}, {"offset": 0.3149, "color": "#8a3fd600"},
          {"offset": 0.324, "color": "#8a3fd600"}, {"offset": 0.3262, "color": "#8a3fd6"}, {"offset": 0.3284, "color": "#8a3fd600"},
          {"offset": 0.3375, "color": "#8a3fd600"}, {"offset": 0.3397, "color": "#8a3fd6"}, {"offset": 0.3419, "color": "#8a3fd600"},
          {"offset": 0.351, "color": "#8a3fd600"}, {"offset": 0.3532, "color": "#8a3fd6"}, {"offset": 0.3554, "color": "#8a3fd600"},
          {"offset": 0.3645, "color": "#8a3fd600"}, {"offset": 0.3667, "color": "#8a3fd6"}, {"offset": 0.3689, "color": "#8a3fd600"},
          {"offset": 0.378, "color": "#8a3fd600"}, {"offset": 0.3802, "color": "#8a3fd6"}, {"offset": 0.3824, "color": "#8a3fd600"},
          {"offset": 0.3915, "color": "#8a3fd600"}, {"offset": 0.3937, "color": "#8a3fd6"}, {"offset": 0.3959, "color": "#8a3fd600"},
          {"offset": 0.405, "color": "#8a3fd600"}, {"offset": 0.4072, "color": "#8a3fd6"}, {"offset": 0.4094, "color": "#8a3fd600"},
          {"offset": 0.4185, "color": "#8a3fd600"}, {"offset": 0.4207, "color": "#8a3fd6"}, {"offset": 0.4229, "color": "#8a3fd600"},
          {"offset": 0.432, "color": "#8a3fd600"}, {"offset": 0.4342, "color": "#8a3fd6"}, {"offset": 0.4364, "color": "#8a3fd600"},
          {"offset": 0.4455, "color": "#8a3fd600"}, {"offset": 0.4477, "color": "#8a3fd6"}, {"offset": 0.4499, "color": "#8a3fd600"},
          {"offset": 0.459, "color": "#8a3fd600"}, {"offset": 0.4612, "color": "#8a3fd6"}, {"offset": 0.4634, "color": "#8a3fd600"},
          {"offset": 0.4725, "color": "#8a3fd600"}, {"offset": 0.4747, "color": "#8a3fd6"}, {"offset": 0.4769, "color": "#8a3fd600"},
          {"offset": 0.486, "color": "#8a3fd600"}, {"offset": 0.4882, "color": "#8a3fd6"}, {"offset": 0.4904, "color": "#8a3fd600"},
          {"offset": 0.4995, "color": "#8a3fd600"}, {"offset": 0.5017, "color": "#8a3fd6"}, {"offset": 0.5039, "color": "#8a3fd600"},
          {"offset": 0.513, "color": "#8a3fd600"}, {"offset": 0.5152, "color": "#8a3fd6"}, {"offset": 0.5174, "color": "#8a3fd600"},
          {"offset": 0.5265, "color": "#8a3fd600"}, {"offset": 0.5287, "color": "#8a3fd6"}, {"offset": 0.5309, "color": "#8a3fd600"},
          {"offset": 0.54, "color": "#8a3fd600"}, {"offset": 0.5422, "color": "#8a3fd6"}, {"offset": 0.5444, "color": "#8a3fd600"},
          {"offset": 0.5535, "color": "#8a3fd600"}, {"offset": 0.5557, "color": "#8a3fd6"}, {"offset": 0.5579, "color": "#8a3fd600"},
          {"offset": 0.567, "color": "#8a3fd600"}, {"offset": 0.5692, "color": "#8a3fd6"}, {"offset": 0.5714, "color": "#8a3fd600"},
          {"offset": 0.5805, "color": "#8a3fd600"}, {"offset": 0.5827, "color": "#8a3fd6"}, {"offset": 0.5849, "color": "#8a3fd600"},
          {"offset": 0.594, "color": "#8a3fd600"}, {"offset": 0.5962, "color": "#8a3fd6"}, {"offset": 0.5984, "color": "#8a3fd600"},
          {"offset": 0.6075, "color": "#8a3fd600"}, {"offset": 0.6097, "color": "#8a3fd6"}, {"offset": 0.6119, "color": "#8a3fd600"},
          {"offset": 0.621, "color": "#8a3fd600"}, {"offset": 0.6232, "color": "#8a3fd6"}, {"offset": 0.6254, "color": "#8a3fd600"},
          {"offset": 0.6345, "color": "#8a3fd600"}, {"offset": 0.6367, "color": "#8a3fd6"}, {"offset": 0.6389, "color": "#8a3fd600"},
          {"offset": 0.648, "color": "#8a3fd600"}, {"offset": 0.6502, "color": "#8a3fd6"}, {"offset": 0.6524, "color": "#8a3fd600"},
          {"offset": 0.6615, "color": "#8a3fd600"}, {"offset": 0.6637, "color": "#8a3fd6"}, {"offset": 0.6659, "color": "#8a3fd600"},
          {"offset": 0.675, "color": "#8a3fd600"}, {"offset": 0.6772, "color": "#8a3fd6"}, {"offset": 0.6794, "color": "#8a3fd600"},
          {"offset": 0.6885, "color": "#8a3fd600"}, {"offset": 0.6907, "color": "#8a3fd6"}, {"offset": 0.6929, "color": "#8a3fd600"},
          {"offset": 0.702, "color": "#8a3fd600"}, {"offset": 0.7042, "color": "#8a3fd6"}, {"offset": 0.7064, "color": "#8a3fd600"},
          {"offset": 0.7155, "color": "#8a3fd600"}, {"offset": 0.7177, "color": "#8a3fd6"}, {"offset": 0.7199, "color": "#8a3fd600"},
          {"offset": 0.729, "color": "#8a3fd600"}, {"offset": 0.7312, "color": "#8a3fd6"}, {"offset": 0.7334, "color": "#8a3fd600"},
          {"offset": 0.7425, "color": "#8a3fd600"}, {"offset": 0.7447, "color": "#8a3fd6"}, {"offset": 0.7469, "color": "#8a3fd600"},
          {"offset": 0.756, "color": "#8a3fd600"}, {"offset": 0.7582, "color": "#8a3fd6"}, {"offset": 0.7604, "color": "#8a3fd600"},
          {"offset": 0.7695, "color": "#8a3fd600"}, {"offset": 0.7717, "color": "#8a3fd6"}, {"offset": 0.7739, "color": "#8a3fd600"},
          {"offset": 0.783, "color": "#8a3fd600"}, {"offset": 0.7852, "color": "#8a3fd6"}, {"offset": 0.7874, "color": "#8a3fd600"},
          {"offset": 0.7965, "color": "#8a3fd600"}, {"offset": 0.7987, "color": "#8a3fd6"}, {"offset": 0.8009, "color": "#8a3fd600"},
          {"offset": 0.81, "color": "#8a3fd600"}, {"offset": 0.8122, "color": "#8a3fd6"}, {"offset": 0.8144, "color": "#8a3fd600"},
          {"offset": 0.8235, "color": "#8a3fd600"}, {"offset": 0.8257, "color": "#8a3fd6"}, {"offset": 0.8279, "color": "#8a3fd600"},
          {"offset": 0.837, "color": "#8a3fd600"}, {"offset": 0.8392, "color": "#8a3fd6"}, {"offset": 0.8414, "color": "#8a3fd600"},
          {"offset": 0.8505, "color": "#8a3fd600"}, {"offset": 0.8527, "color": "#8a3fd6"}, {"offset": 0.8549, "color": "#8a3fd600"},
          {"offset": 0.864, "color": "#8a3fd600"}, {"offset": 0.8662, "color": "#8a3fd6"}, {"offset": 0.8684, "color": "#8a3fd600"},
          {"offset": 0.8775, "color": "#8a3fd600"}, {"offset": 0.8797, "color": "#8a3fd6"}, {"offset": 0.8819, "color": "#8a3fd600"},
          {"offset": 0.891, "color": "#8a3fd600"}, {"offset": 0.8932, "color": "#8a3fd6"}, {"offset": 0.8954, "color": "#8a3fd600"},
          {"offset": 0.9045, "color": "#8a3fd600"}, {"offset": 0.9067, "color": "#8a3fd6"}, {"offset": 0.9089, "color": "#8a3fd600"},
          {"offset": 0.918, "color": "#8a3fd600"}, {"offset": 0.9202, "color": "#8a3fd6"}, {"offset": 0.9224, "color": "#8a3fd600"},
          {"offset": 0.9315, "color": "#8a3fd600"}, {"offset": 0.9337, "color": "#8a3fd6"}, {"offset": 0.9359, "color": "#8a3fd600"},
          {"offset": 0.945, "color": "#8a3fd600"}, {"offset": 0.9472, "color": "#8a3fd6"}, {"offset": 0.9494, "color": "#8a3fd600"},
          {"offset": 0.9585, "color": "#8a3fd600"}, {"offset": 0.9607, "color": "#8a3fd6"}, {"offset": 0.9629, "color": "#8a3fd600"},
          {"offset": 0.972, "color": "#8a3fd600"}, {"offset": 0.9742, "color": "#8a3fd6"}, {"offset": 0.9764, "color": "#8a3fd600"},
          {"offset": 0.9855, "color": "#8a3fd600"}, {"offset": 0.9877, "color": "#8a3fd6"}, {"offset": 0.9899, "color": "#8a3fd600"},
          {"offset": 1, "color": "#8a3fd600"}
        ]}
      },
      "encoding": {
        "x": {"field": "E", "type": "quantitative", "scale": {"domain": [6.9, 15.21], "nice": false, "zero": false}, "axis": null},
        "y": {"field": "hi", "type": "quantitative", "scale": {"type": "log", "domain": [1e-5, 3.1e7], "nice": false}, "axis": null},
        "y2": {"field": "lo"}
      }
    },
    {
      "data": {"name": "curves"},
      "mark": {"type": "line", "clip": true, "interpolate": "monotone", "color": "#333", "strokeWidth": 1.3},
      "encoding": {
        "x": {"field": "E", "type": "quantitative", "scale": {"domain": [6.9, 15.21], "nice": false, "zero": false}, "axis": null},
        "y": {"field": "F", "type": "quantitative", "scale": {"type": "log", "domain": [1e-5, 3.1e7], "nice": false}, "axis": null},
        "detail": {"field": "c", "type": "nominal"},
        "strokeDash": {
          "field": "m", "type": "nominal",
          "scale": {"domain": ["saturated", "mid-range", "minimal"], "range": [[7, 3, 1.5, 3], [12, 6], [7, 4]]},
          "legend": {"title": "GZK ν Models:", "orient": "none", "legendX": 36, "legendY": 514, "direction": "vertical", "titleFontSize": 22, "titleColor": "#333", "titleFontWeight": "normal", "titlePadding": 6, "symbolType": "M-1,-0.31H1V0.31H-1Z", "symbolSize": 8100, "symbolStrokeColor": "#444", "symbolStrokeWidth": 1.2, "symbolOpacity": 1, "clipHeight": 30, "rowPadding": 30, "labelFontSize": 20, "labelOffset": 12, "labelColor": "#333", "padding": 0}
        }
      }
    },
    {
      "data": {"name": "limits"},
      "transform": [{"filter": "indexof(datum.s, 'ANITA−II') < 0"}],
      "mark": {"type": "line", "clip": true},
      "encoding": {
        "x": {
          "field": "E", "type": "quantitative",
          "scale": {"domain": [6.9, 15.21], "nice": false, "zero": false},
          "axis": {
            "orient": "bottom",
            "values": [7, 7.5, 8, 8.5, 9, 9.5, 10, 10.5, 11, 11.5, 12, 12.5, 13, 13.5, 14, 14.5, 15],
            "labelExpr": "datum.value % 2 === 0 ? format(datum.value, 'd') : ''",
            "tickSize": {"condition": {"test": "datum.value % 2 === 0", "value": -18}, "value": -9},
            "labelPadding": 53,
            "labelBaseline": "alphabetic",
            "labelFontSize": 24,
            "labelColor": "#555",
            "title": "Log₁₀ Eᵥ (GeV)",
            "titleFontSize": 42,
            "titleFontWeight": "bold",
            "titleColor": "#000",
            "titleX": 330,
            "titleY": 94,
            "titleBaseline": "alphabetic",
            "titleAlign": "center"
          }
        },
        "y": {
          "field": "F", "type": "quantitative",
          "scale": {"type": "log", "domain": [1e-5, 3.1e7], "nice": false},
          "axis": {
            "orient": "left",
            "values": [1e-5, 2e-5, 3e-5, 4e-5, 5e-5, 6e-5, 7e-5, 8e-5, 9e-5, 1e-4, 2e-4, 3e-4, 4e-4, 5e-4, 6e-4, 7e-4, 8e-4, 9e-4, 0.001, 0.002, 0.003, 0.004, 0.005, 0.006, 0.007, 0.008, 0.009, 0.01, 0.02, 0.03, 0.04, 0.05, 0.06, 0.07, 0.08, 0.09, 0.1, 0.2, 0.3, 0.4, 0.5, 0.6, 0.7, 0.8, 0.9, 1, 2, 3, 4, 5, 6, 7, 8, 9, 10, 20, 30, 40, 50, 60, 70, 80, 90, 100, 200, 300, 400, 500, 600, 700, 800, 900, 1000, 2000, 3000, 4000, 5000, 6000, 7000, 8000, 9000, 1e4, 2e4, 3e4, 4e4, 5e4, 6e4, 7e4, 8e4, 9e4, 1e5, 2e5, 3e5, 4e5, 5e5, 6e5, 7e5, 8e5, 9e5, 1e6, 2e6, 3e6, 4e6, 5e6, 6e6, 7e6, 8e6, 9e6, 1e7, 2e7, 3e7],
            "labelExpr": "datum.value == 1e7 ? '10⁷' : datum.value == 1e6 ? '10⁶' : datum.value == 1e5 ? '10⁵' : datum.value == 1e4 ? '10⁴' : datum.value == 1000 ? '10³' : datum.value == 100 ? '10²' : datum.value == 10 ? '10' : datum.value == 1 ? '1' : datum.value == 0.1 ? '0.1' : datum.value == 0.01 ? '0.01' : datum.value == 0.001 ? '10⁻³' : datum.value == 0.0001 ? '10⁻⁴' : datum.value == 0.00001 ? '10⁻⁵' : ''",
            "tickSize": {"condition": {"test": "abs(log(datum.value) / LN10 - round(log(datum.value) / LN10)) < 0.001", "value": -20}, "value": -10},
            "labelPadding": 35,
            "labelBaseline": "middle",
            "labelFontSize": 24,
            "labelColor": "#555",
            "title": "E Φ(E) (km⁻² yr⁻¹ ster⁻¹)",
            "titleFontSize": 42,
            "titleFontWeight": "bold",
            "titleColor": "#000",
            "titleX": -100,
            "titleY": 450,
            "titleAngle": -90,
            "titleAlign": "center",
            "titleBaseline": "middle"
          }
        },
        "stroke": {"field": "s", "type": "nominal", "scale": {"domain": ["AMANDA−2008", "RICE−2006", "Auger−2008", "HiRes−2008", "ANITA−I−Rev.−2010", "ANITA−II−2010−(Expected)", "ANITA−II−2010−(Actual)"], "range": ["#222222", "#666666", "#111111", "#222222", "#222222", "#ff2a2a", "#1c3fd8"]}, "legend": null},
        "strokeWidth": {"field": "s", "type": "ordinal", "scale": {"domain": ["AMANDA−2008", "RICE−2006", "Auger−2008", "HiRes−2008", "ANITA−I−Rev.−2010", "ANITA−II−2010−(Expected)", "ANITA−II−2010−(Actual)"], "range": [1.3, 1.4, 1.4, 1.3, 1.3, 1.5, 2.8]}, "legend": null}
      }
    },
    {
      "data": {"name": "limits"},
      "transform": [{"filter": "indexof(datum.s, 'ANITA−II') >= 0"}],
      "mark": {"type": "line", "clip": true, "interpolate": "monotone"},
      "encoding": {
        "x": {"field": "E", "type": "quantitative", "scale": {"domain": [6.9, 15.21], "nice": false, "zero": false}, "axis": null},
        "y": {"field": "F", "type": "quantitative", "scale": {"type": "log", "domain": [1e-5, 3.1e7], "nice": false}, "axis": null},
        "stroke": {"field": "s", "type": "nominal", "scale": {"domain": ["AMANDA−2008", "RICE−2006", "Auger−2008", "HiRes−2008", "ANITA−I−Rev.−2010", "ANITA−II−2010−(Expected)", "ANITA−II−2010−(Actual)"], "range": ["#222222", "#666666", "#111111", "#222222", "#222222", "#ff2a2a", "#1c3fd8"]}, "legend": null},
        "strokeWidth": {"field": "s", "type": "ordinal", "scale": {"domain": ["AMANDA−2008", "RICE−2006", "Auger−2008", "HiRes−2008", "ANITA−I−Rev.−2010", "ANITA−II−2010−(Expected)", "ANITA−II−2010−(Actual)"], "range": [1.3, 1.4, 1.4, 1.3, 1.3, 1.5, 2.8]}, "legend": null}
      }
    },
    {
      "data": {"name": "limits"},
      "mark": {"type": "point", "clip": true, "opacity": 1},
      "encoding": {
        "x": {
          "field": "E", "type": "quantitative",
          "scale": {"domain": [6.9, 15.21], "nice": false, "zero": false},
          "axis": {
            "orient": "top",
            "values": [7, 7.5, 8, 8.5, 9, 9.5, 10, 10.5, 11, 11.5, 12, 12.5, 13, 13.5, 14, 14.5, 15],
            "labels": false,
            "tickSize": {"condition": {"test": "datum.value % 2 === 0", "value": -18}, "value": -9},
            "title": null
          }
        },
        "y": {
          "field": "F", "type": "quantitative",
          "scale": {"type": "log", "domain": [1e-5, 3.1e7], "nice": false},
          "axis": {
            "orient": "right",
            "values": [1e-5, 2e-5, 3e-5, 4e-5, 5e-5, 6e-5, 7e-5, 8e-5, 9e-5, 1e-4, 2e-4, 3e-4, 4e-4, 5e-4, 6e-4, 7e-4, 8e-4, 9e-4, 0.001, 0.002, 0.003, 0.004, 0.005, 0.006, 0.007, 0.008, 0.009, 0.01, 0.02, 0.03, 0.04, 0.05, 0.06, 0.07, 0.08, 0.09, 0.1, 0.2, 0.3, 0.4, 0.5, 0.6, 0.7, 0.8, 0.9, 1, 2, 3, 4, 5, 6, 7, 8, 9, 10, 20, 30, 40, 50, 60, 70, 80, 90, 100, 200, 300, 400, 500, 600, 700, 800, 900, 1000, 2000, 3000, 4000, 5000, 6000, 7000, 8000, 9000, 1e4, 2e4, 3e4, 4e4, 5e4, 6e4, 7e4, 8e4, 9e4, 1e5, 2e5, 3e5, 4e5, 5e5, 6e5, 7e5, 8e5, 9e5, 1e6, 2e6, 3e6, 4e6, 5e6, 6e6, 7e6, 8e6, 9e6, 1e7, 2e7, 3e7],
            "labels": false,
            "tickSize": {"condition": {"test": "abs(log(datum.value) / LN10 - round(log(datum.value) / LN10)) < 0.001", "value": -20}, "value": -10},
            "title": null
          }
        },
        "shape": {"field": "s", "type": "nominal", "scale": {"domain": ["AMANDA−2008", "RICE−2006", "Auger−2008", "HiRes−2008", "ANITA−I−Rev.−2010", "ANITA−II−2010−(Expected)", "ANITA−II−2010−(Actual)"], "range": ["triangle-down", "M0,-1L0.95,-0.31L0.59,0.81L-0.59,0.81L-0.95,-0.31Z", "triangle-right", "diamond", "M0,-1L0.2,-0.2L0.9,0L0.2,0.2L0,1L-0.2,0.2L-0.9,0L-0.2,-0.2Z", "M0,-1L0.2,-0.2L0.9,0L0.2,0.2L0,1L-0.2,0.2L-0.9,0L-0.2,-0.2Z", "M0,-1L0.2,-0.2L0.9,0L0.2,0.2L0,1L-0.2,0.2L-0.9,0L-0.2,-0.2Z"]}, "legend": null},
        "stroke": {"field": "s", "type": "nominal", "scale": {"domain": ["AMANDA−2008", "RICE−2006", "Auger−2008", "HiRes−2008", "ANITA−I−Rev.−2010", "ANITA−II−2010−(Expected)", "ANITA−II−2010−(Actual)"], "range": ["#222222", "#444444", "#111111", "#222222", "#222222", "#ff2a2a", "#1c3fd8"]}, "legend": null},
        "fill": {"field": "s", "type": "nominal", "scale": {"domain": ["AMANDA−2008", "RICE−2006", "Auger−2008", "HiRes−2008", "ANITA−I−Rev.−2010", "ANITA−II−2010−(Expected)", "ANITA−II−2010−(Actual)"], "range": ["#ffffff", "#ffffff", "#111111", "#ffffff", "#ffffff", "#ffffff", "#1c3fd8"]}, "legend": null},
        "strokeWidth": {"field": "s", "type": "ordinal", "scale": {"domain": ["AMANDA−2008", "RICE−2006", "Auger−2008", "HiRes−2008", "ANITA−I−Rev.−2010", "ANITA−II−2010−(Expected)", "ANITA−II−2010−(Actual)"], "range": [1.2, 1.2, 1.2, 1.2, 1.2, 1.4, 2.2]}, "legend": null},
        "size": {"field": "s", "type": "ordinal", "scale": {"domain": ["AMANDA−2008", "RICE−2006", "Auger−2008", "HiRes−2008", "ANITA−I−Rev.−2010", "ANITA−II−2010−(Expected)", "ANITA−II−2010−(Actual)"], "range": [170, 290, 230, 210, 330, 330, 330]}, "legend": null}
      }
    },
    {
      "data": {"name": "limits"},
      "mark": {"type": "point", "opacity": 0},
      "encoding": {
        "x": {"field": "E", "type": "quantitative", "scale": {"domain": [6.9, 15.21], "nice": false, "zero": false}, "axis": null},
        "y": {"field": "F", "type": "quantitative", "scale": {"type": "log", "domain": [1e-5, 3.1e7], "nice": false}, "axis": null},
        "shape": {
          "field": "s", "type": "nominal",
          "scale": {"domain": ["AMANDA−2008", "RICE−2006", "Auger−2008", "HiRes−2008", "ANITA−I−Rev.−2010", "ANITA−II−2010−(Expected)", "ANITA−II−2010−(Actual)"], "range": [
            "M-0.99,-0.13L-0.65,-0.13L-0.82,0.17Z M-0.17,-0.13L0.17,-0.13L0,0.17Z M0.65,-0.13L0.99,-0.13L0.82,0.17Z M-0.73,0H-0.09 M0.09,0H0.73",
            "M-0.82,-0.2L-0.63,-0.06L-0.7,0.16L-0.94,0.16L-1.01,-0.06Z M0.82,-0.2L1.01,-0.06L0.94,0.16L0.7,0.16L0.63,-0.06Z M-0.64,0H0.64",
            "M-0.96,-0.17L-0.62,0L-0.96,0.17Z M0.68,-0.17L1.02,0L0.68,0.17Z M-0.9,0H0.7",
            "M-0.82,-0.2L-0.65,0L-0.82,0.2L-0.99,0Z M0.82,-0.2L0.99,0L0.82,0.2L0.65,0Z M-0.65,0H0.65",
            "M-0.82,-0.24L-0.77,-0.05L-0.62,0L-0.77,0.05L-0.82,0.24L-0.87,0.05L-1.02,0L-0.87,-0.05Z M0.82,-0.24L0.87,-0.05L1.02,0L0.87,0.05L0.82,0.24L0.77,0.05L0.62,0L0.77,-0.05Z M-0.62,0H0.62",
            "M-0.82,-0.24L-0.77,-0.05L-0.62,0L-0.77,0.05L-0.82,0.24L-0.87,0.05L-1.02,0L-0.87,-0.05Z M0.82,-0.24L0.87,-0.05L1.02,0L0.87,0.05L0.82,0.24L0.77,0.05L0.62,0L0.77,-0.05Z M-0.62,0H0.62",
            "M-0.82,-0.24L-0.77,-0.05L-0.62,0L-0.77,0.05L-0.82,0.24L-0.87,0.05L-1.02,0L-0.87,-0.05Z M0.82,-0.24L0.87,-0.05L1.02,0L0.87,0.05L0.82,0.24L0.77,0.05L0.62,0L0.77,-0.05Z M-0.62,0H0.62"
          ]},
          "legend": {"title": ["Limits:", "(all flavors,1:1:1)"], "orient": "none", "legendX": 120, "legendY": 26, "direction": "vertical", "titleOrient": "left", "titleAlign": "right", "titleAnchor": "start", "titleBaseline": "top", "titleFontSize": 22, "titleLineHeight": 29, "titlePadding": -157, "titleColor": "#333", "titleFontWeight": "normal", "titleLimit": 400, "symbolSize": 6400, "symbolOpacity": 1, "clipHeight": 22, "rowPadding": 8, "labelFontSize": 20, "labelOffset": 10, "labelLimit": 400, "labelColor": {"expr": "datum.label === 'ANITA−II−2010−(Expected)' ? '#ff2a2a' : datum.label === 'ANITA−II−2010−(Actual)' ? '#1c3fd8' : '#333333'"}, "padding": 0}
        },
        "stroke": {
          "field": "s", "type": "nominal",
          "scale": {"domain": ["AMANDA−2008", "RICE−2006", "Auger−2008", "HiRes−2008", "ANITA−I−Rev.−2010", "ANITA−II−2010−(Expected)", "ANITA−II−2010−(Actual)"], "range": ["#222222", "#888888", "#111111", "#222222", "#222222", "#ff2a2a", "#1c3fd8"]},
          "legend": {"title": ["Limits:", "(all flavors,1:1:1)"], "orient": "none", "legendX": 120, "legendY": 26, "direction": "vertical", "titleOrient": "left", "titleAlign": "right", "titleAnchor": "start", "titleBaseline": "top", "titleFontSize": 22, "titleLineHeight": 29, "titlePadding": -157, "titleColor": "#333", "titleFontWeight": "normal", "titleLimit": 400, "symbolSize": 6400, "symbolOpacity": 1, "clipHeight": 22, "rowPadding": 8, "labelFontSize": 20, "labelOffset": 10, "labelLimit": 400, "labelColor": {"expr": "datum.label === 'ANITA−II−2010−(Expected)' ? '#ff2a2a' : datum.label === 'ANITA−II−2010−(Actual)' ? '#1c3fd8' : '#333333'"}, "padding": 0}
        },
        "fill": {
          "field": "s", "type": "nominal",
          "scale": {"domain": ["AMANDA−2008", "RICE−2006", "Auger−2008", "HiRes−2008", "ANITA−I−Rev.−2010", "ANITA−II−2010−(Expected)", "ANITA−II−2010−(Actual)"], "range": ["#ffffff", "#ffffff", "#111111", "#ffffff", "#ffffff", "#ffffff", "#1c3fd8"]},
          "legend": {"title": ["Limits:", "(all flavors,1:1:1)"], "orient": "none", "legendX": 120, "legendY": 26, "direction": "vertical", "titleOrient": "left", "titleAlign": "right", "titleAnchor": "start", "titleBaseline": "top", "titleFontSize": 22, "titleLineHeight": 29, "titlePadding": -157, "titleColor": "#333", "titleFontWeight": "normal", "titleLimit": 400, "symbolSize": 6400, "symbolOpacity": 1, "clipHeight": 22, "rowPadding": 8, "labelFontSize": 20, "labelOffset": 10, "labelLimit": 400, "labelColor": {"expr": "datum.label === 'ANITA−II−2010−(Expected)' ? '#ff2a2a' : datum.label === 'ANITA−II−2010−(Actual)' ? '#1c3fd8' : '#333333'"}, "padding": 0}
        },
        "strokeWidth": {
          "field": "s", "type": "ordinal",
          "scale": {"domain": ["AMANDA−2008", "RICE−2006", "Auger−2008", "HiRes−2008", "ANITA−I−Rev.−2010", "ANITA−II−2010−(Expected)", "ANITA−II−2010−(Actual)"], "range": [1.3, 1.6, 1.4, 1.3, 1.3, 1.5, 2.8]},
          "legend": {"title": ["Limits:", "(all flavors,1:1:1)"], "orient": "none", "legendX": 120, "legendY": 26, "direction": "vertical", "titleOrient": "left", "titleAlign": "right", "titleAnchor": "start", "titleBaseline": "top", "titleFontSize": 22, "titleLineHeight": 29, "titlePadding": -157, "titleColor": "#333", "titleFontWeight": "normal", "titleLimit": 400, "symbolSize": 6400, "symbolOpacity": 1, "clipHeight": 22, "rowPadding": 8, "labelFontSize": 20, "labelOffset": 10, "labelLimit": 400, "labelColor": {"expr": "datum.label === 'ANITA−II−2010−(Expected)' ? '#ff2a2a' : datum.label === 'ANITA−II−2010−(Actual)' ? '#1c3fd8' : '#333333'"}, "padding": 0}
        }
      }
    },
    {
      "data": {"values": [{}]},
      "mark": {"type": "text", "align": "left", "baseline": "alphabetic", "font": "Liberation Sans", "fontSize": 54, "color": "#1565f0", "lineHeight": 58, "text": ["e", "c-"]},
      "encoding": {
        "x": {"datum": 5.31, "type": "quantitative", "scale": {"domain": [6.9, 15.21], "nice": false, "zero": false}, "axis": null},
        "y": {"datum": 2.375e7, "type": "quantitative", "scale": {"type": "log", "domain": [1e-5, 3.1e7], "nice": false}, "axis": null}
      }
    }
  ],
  "resolve": {
    "scale": {"shape": "independent", "stroke": "independent", "fill": "independent", "strokeWidth": "independent", "size": "independent"},
    "axis": {"x": "independent", "y": "independent"}
  },
  "config": {
    "view": {"stroke": null},
    "font": "DejaVu Sans",
    "axis": {"grid": false, "labelFont": "DejaVu Sans", "titleFont": "Liberation Sans", "domainColor": "#333", "domainWidth": 2, "tickColor": "#333", "tickWidth": 1.5, "labelOverlap": false, "labelFlush": false, "zindex": 1},
    "legend": {"labelFont": "DejaVu Sans", "titleFont": "DejaVu Sans"}
  }
}
